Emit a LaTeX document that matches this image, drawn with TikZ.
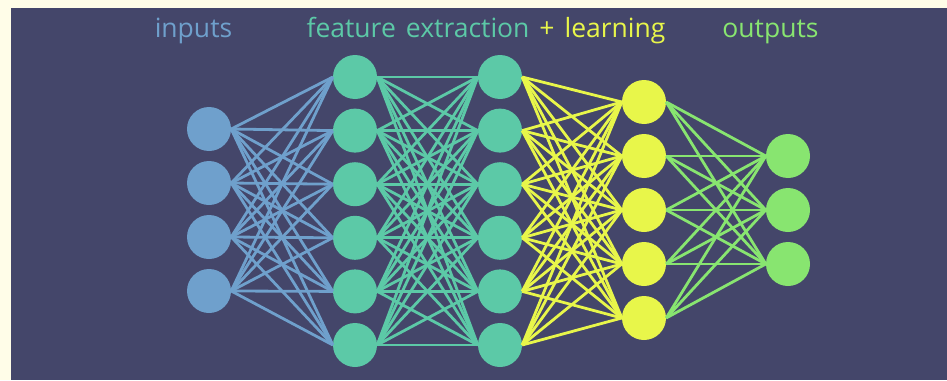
\documentclass[tikz,border=0pt]{standalone}
\usepackage{fontspec}
\setmainfont{Open Sans}
\definecolor{cream}{RGB}{255,253,232}
\definecolor{bg}{RGB}{68,70,106}
\definecolor{cin}{RGB}{111,160,204}
\definecolor{cfe}{RGB}{92,201,167}
\definecolor{cle}{RGB}{232,246,74}
\definecolor{cout}{RGB}{136,229,112}
\begin{document}
\begin{tikzpicture}[x=1pt,y=-1pt,
  neuron/.style={circle,inner sep=0pt,minimum size=44pt},
  link/.style={line width=2.8pt},
  lbl/.style={inner sep=0pt,anchor=base,font=\fontsize{26.5}{26.5}\selectfont}]
\fill[cream] (0,0) rectangle (947,380);
\fill[bg] (11,8) rectangle (947,380);
\useasboundingbox (0,0) rectangle (947,380);
% nodes
\foreach \i/\y in {1/129,2/183,3/237,4/291}
  \node[neuron,fill=cin] (i\i) at (209,\y) {};
\foreach \i/\y in {1/77,2/130.6,3/184.2,4/237.8,5/291.4,6/345}{
  \node[neuron,fill=cfe] (a\i) at (355,\y) {};
  \node[neuron,fill=cfe] (b\i) at (500,\y) {};}
\foreach \i/\y in {1/102,2/156,3/210,4/264,5/318}
  \node[neuron,fill=cle] (c\i) at (644,\y) {};
\foreach \i/\y in {1/156,2/210,3/264}
  \node[neuron,fill=cout] (o\i) at (788,\y) {};
% links
\foreach \s in {1,...,4}\foreach \t in {1,...,6}
  \draw[link,cin] (i\s.east) -- (a\t.west);
\foreach \s in {1,...,6}\foreach \t in {1,...,6}
  \draw[link,cfe] (a\s.east) -- (b\t.west);
\foreach \s in {1,...,6}\foreach \t in {1,...,5}
  \draw[link,cle] (b\s.east) -- (c\t.west);
\foreach \s in {1,...,5}\foreach \t in {1,...,3}
  \draw[link,cout] (c\s.east) -- (o\t.west);
% labels
\node[lbl,text=cin] (t1) at (193.5,37) {inputs};
\node[lbl,text=cfe] (t2) at (418,37) {feature\hspace{0.12em} extraction};
\node[lbl,text=cle] (t3) at (547,37) {+};
\node[lbl,text=cle] (t4) at (615,37) {learning};
\node[lbl,text=cout] (t5) at (770.5,37) {outputs};
\end{tikzpicture}
\end{document}
